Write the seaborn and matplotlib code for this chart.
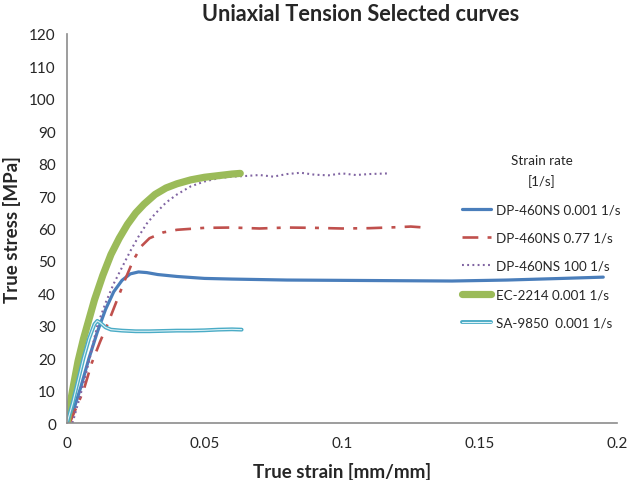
import numpy as np
import pandas as pd
import seaborn as sns
import matplotlib.pyplot as plt
import matplotlib.patheffects as pe

# DP-460NS 0.001 1/s
dp_slow_strain = [0, 0.002, 0.005, 0.008, 0.011, 0.014, 0.017, 0.020, 0.023, 0.026, 0.029,
                  0.033, 0.040, 0.050, 0.060, 0.080, 0.100, 0.120, 0.140, 0.160, 0.180, 0.195]
dp_slow_stress = [0, 3, 11, 20, 28, 35, 40.5, 44, 46, 46.6, 46.4,
                  45.8, 45.2, 44.6, 44.4, 44.1, 44.0, 43.9, 43.8, 44.1, 44.6, 45.0]

# DP-460NS 0.77 1/s
dp_mid_strain = [0.001, 0.003, 0.006, 0.009, 0.012, 0.015, 0.018, 0.021, 0.024, 0.027, 0.030,
                 0.035, 0.040, 0.050, 0.060, 0.070, 0.080, 0.090, 0.100, 0.110, 0.120, 0.125, 0.130]
dp_mid_stress = [0, 4, 10, 18.5, 25, 31, 37.5, 44, 50, 54.5, 57,
                 58.8, 59.6, 60.2, 60.3, 60.0, 60.3, 60.2, 60.0, 60.1, 60.4, 60.6, 60.3]

# DP-460NS 100 1/s
dp_fast_strain = [0.002, 0.005, 0.008, 0.011, 0.014, 0.017, 0.020, 0.023, 0.026, 0.029, 0.032,
                  0.036, 0.040, 0.045, 0.050, 0.055, 0.060, 0.065, 0.070, 0.075, 0.080, 0.085,
                  0.090, 0.095, 0.100, 0.105, 0.110, 0.117]
dp_fast_stress = [0, 9, 19, 30, 37, 43, 48, 53, 57.5, 61.5, 64.5,
                  68, 70.5, 73, 74.5, 75.5, 76, 76.2, 76.5, 76.0, 76.8, 77.2,
                  76.6, 76.4, 77.0, 76.5, 76.8, 77.0]

# EC-2214 0.001 1/s
ec_strain = [0, 0.002, 0.004, 0.006, 0.008, 0.010, 0.013, 0.016, 0.019, 0.022, 0.025,
             0.028, 0.032, 0.036, 0.040, 0.045, 0.050, 0.055, 0.060, 0.063]
ec_stress = [0, 10, 19, 26, 32, 38, 45.5, 52, 57, 61.3, 64.8,
             67.5, 70.5, 72.5, 73.8, 75, 75.8, 76.3, 76.8, 77.0]

# SA-9850 0.001 1/s
sa_strain = [0, 0.002, 0.004, 0.006, 0.008, 0.010, 0.011, 0.012, 0.014, 0.016, 0.020,
             0.025, 0.030, 0.035, 0.040, 0.045, 0.050, 0.055, 0.060, 0.0635]
sa_stress = [0, 6, 13, 20, 26, 30.5, 31.5, 31, 29.5, 28.8, 28.5,
             28.3, 28.3, 28.4, 28.5, 28.5, 28.6, 28.8, 28.9, 28.8]

sns.set_style("white")
plt.rcParams['font.family'] = ['Lato', 'DejaVu Sans']

fig = plt.figure(figsize=(6.29, 4.81), dpi=100)
ax = fig.add_axes([67/629, 1 - 424/481, 550/629, 389/481])

sns.lineplot(x=dp_slow_strain, y=dp_slow_stress, ax=ax, sort=False, estimator=None,
             color='#4a7ebb', linewidth=2.3, label='DP-460NS 0.001 1/s')
sns.lineplot(x=dp_mid_strain, y=dp_mid_stress, ax=ax, sort=False, estimator=None,
             color='#c0504d', linewidth=1.9, linestyle=(0, (6, 3.5, 1.5, 3.5)),
             label='DP-460NS 0.77 1/s')
sns.lineplot(x=dp_fast_strain, y=dp_fast_stress, ax=ax, sort=False, estimator=None,
             color='#8064a2', linewidth=1.5, linestyle=(0, (0.9, 1.6)),
             label='DP-460NS 100 1/s')
sns.lineplot(x=ec_strain, y=ec_stress, ax=ax, sort=False, estimator=None,
             color='#9bbb59', linewidth=5.2, label='EC-2214 0.001 1/s')
sns.lineplot(x=sa_strain, y=sa_stress, ax=ax, sort=False, estimator=None,
             color='#dff2f7', linewidth=0.8, label='SA-9850  0.001 1/s',
             path_effects=[pe.Stroke(linewidth=2.8, foreground='#4bacc6'), pe.Normal()])

ax.set_xlim(0, 0.2)
ax.set_ylim(0, 120)
ax.set_xticks([0, 0.05, 0.1, 0.15, 0.2])
ax.set_xticklabels(['0', '0.05', '0.1', '0.15', '0.2'])
ax.set_yticks(range(0, 121, 10))

for s in ['top', 'right']:
    ax.spines[s].set_visible(False)
for s in ['left', 'bottom']:
    ax.spines[s].set_color('#8c8c8c')
    ax.spines[s].set_linewidth(1.2)

ax.tick_params(axis='y', direction='inout', length=8, width=1, color='#8c8c8c',
               labelsize=11, pad=4)
ax.tick_params(axis='x', length=0, labelsize=11, pad=9)

ax.set_xlabel('True strain [mm/mm]', fontsize=13.5, fontweight='bold', labelpad=9)
ax.set_ylabel('True stress [MPa]', fontsize=13.5, fontweight='bold', labelpad=6)
ax.set_title('Uniaxial Tension Selected curves', fontsize=15.7, fontweight='bold',
             x=0.533, pad=10)

leg = ax.legend(title='Strain rate\n[1/s]', loc='upper left', bbox_to_anchor=(0.697, 0.722),
                frameon=False, fontsize=9.6, title_fontsize=9.6, handlelength=2.15,
                handletextpad=0.37, labelspacing=1.22)
leg._legend_box.align = 'center'
leg._legend_box.sep = 12
leg.get_title().set_multialignment('center')
leg.get_title().set_linespacing(1.7)

fig.savefig('out.png', dpi=100)
